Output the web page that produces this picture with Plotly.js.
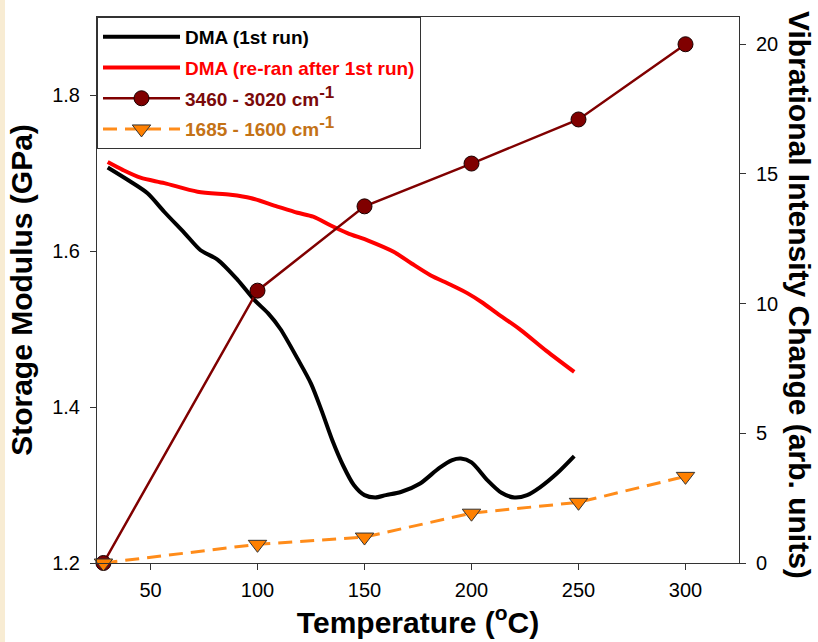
<!DOCTYPE html>
<html>
<head>
<meta charset="utf-8">
<script src="https://cdn.plot.ly/plotly-3.0.1.min.js"></script>
<style>
  html, body { margin: 0; padding: 0; background: #f8ecd3; width: 818px; height: 642px; overflow: hidden; }
  #chart { position: absolute; left: 5px; top: 0; width: 813px; height: 642px; background: #fff; }
</style>
</head>
<body>
<div id="chart"></div>
<script>
// DMA (1st run) - storage modulus (GPa)
const dma1Temp = [30, 40, 48.6, 56.5, 65.9, 73.4, 81.3, 90.7, 98.6, 105, 110.7, 118.7, 125, 130, 135, 140, 145, 150, 155, 160, 167, 176, 185, 191, 195, 200, 207.5, 214, 220, 226, 232, 240, 248];
const dma1Mod  = [1.707, 1.690, 1.674, 1.650, 1.623, 1.601, 1.589, 1.563, 1.537, 1.520, 1.500, 1.462, 1.430, 1.395, 1.357, 1.325, 1.300, 1.287, 1.284, 1.287, 1.291, 1.302, 1.322, 1.332, 1.334, 1.329, 1.306, 1.290, 1.284, 1.287, 1.297, 1.315, 1.337];

// DMA (re-ran after 1st run)
const dma2Temp = [30, 37, 45.3, 56.5, 72, 87.4, 96.7, 109.3, 118.7, 126, 134, 142, 152, 163.6, 172, 180.8, 190, 198, 205, 212, 222.9, 235, 248];
const dma2Mod  = [1.714, 1.704, 1.694, 1.687, 1.676, 1.672, 1.668, 1.657, 1.649, 1.644, 1.633, 1.623, 1.613, 1.599, 1.584, 1.569, 1.557, 1.546, 1.534, 1.520, 1.499, 1.472, 1.445];

// Vibrational intensity change (arb. units)
const irTemp   = [28, 100, 150, 200, 250, 300];
const band3460 = [0, 10.5, 13.75, 15.4, 17.1, 20.0];
const band1685 = [0, 0.72, 1.0, 1.92, 2.34, 3.34];

const names = [
  '<span style="color:#000000">DMA (1st run)</span>',
  '<span style="color:#ff0000">DMA (re-ran after 1st run)</span>',
  '<span style="color:#7a0a0a">3460 - 3020 cm<sup><span style="font-size:17px">-1</span></sup></span>',
  '<span style="color:#c47216">1685 - 1600 cm<sup><span style="font-size:17px">-1</span></sup></span>'
];

const FONT = 'Liberation Sans, Arial, sans-serif';

const traces = [
  { x: dma1Temp, y: dma1Mod, name: names[0], legendgroup: 'a', mode: 'lines', yaxis: 'y',
    line: { color: '#000000', width: 4, shape: 'spline', smoothing: 0.8 } },
  { x: dma2Temp, y: dma2Mod, name: names[1], legendgroup: 'b', mode: 'lines', yaxis: 'y',
    line: { color: '#ff0000', width: 4, shape: 'spline', smoothing: 0.8 } },
  { x: irTemp, y: band3460, name: names[2], legendgroup: 'c', mode: 'lines+markers', yaxis: 'y2', cliponaxis: false,
    line: { color: '#800000', width: 2.5 },
    marker: { symbol: 'circle', size: 15, color: '#800000', line: { color: '#1a0000', width: 1 } } },
  { x: irTemp, y: band1685, name: names[3], legendgroup: 'd', mode: 'lines+markers', yaxis: 'y2', cliponaxis: false,
    line: { color: '#ff8c1a', width: 3, dash: '14px,8px' },
    marker: { symbol: 'triangle-down', size: 16, color: '#ff8000', line: { color: '#333333', width: 1 } } }
];

const layout = {
  width: 813, height: 642,
  margin: { l: 92, r: 79, t: 17, b: 79, pad: 0 },
  paper_bgcolor: '#ffffff', plot_bgcolor: '#ffffff',
  font: { family: FONT, color: '#000000' },
  showlegend: true,
  legend: {
    x: 0, y: 1, xanchor: 'left', yanchor: 'top',
    bgcolor: '#ffffff', bordercolor: '#333333', borderwidth: 1,
    font: { family: FONT, size: 19, weight: 'bold' },
    itemwidth: 77, tracegroupgap: 3
  },
  xaxis: {
    range: [25, 325], tickvals: [50, 100, 150, 200, 250, 300],
    showline: true, linecolor: '#333333', linewidth: 1, mirror: true,
    ticks: 'outside', ticklen: 6, tickcolor: '#333333',
    tickfont: { family: FONT, size: 20, color: '#000' }, ticklabelstandoff: 3,
    showgrid: false, zeroline: false,
    title: { text: 'Temperature (<sup>o</sup>C)', font: { family: FONT, size: 30, weight: 'bold' }, standoff: 4 }
  },
  yaxis: {
    range: [1.2, 1.9], tickvals: [1.2, 1.4, 1.6, 1.8], tickformat: '.1f',
    showline: true, linecolor: '#333333', linewidth: 1,
    ticks: 'outside', ticklen: 6, tickcolor: '#333333',
    tickfont: { family: FONT, size: 20, color: '#000' }, ticklabelstandoff: 6,
    showgrid: false, zeroline: false,
    title: { text: 'Storage Modulus (GPa)', font: { family: FONT, size: 30, weight: 'bold' }, standoff: 10 }
  },
  yaxis2: {
    overlaying: 'y', side: 'right', range: [0, 21.05], tickvals: [0, 5, 10, 15, 20],
    showline: true, linecolor: '#333333', linewidth: 1,
    ticks: 'outside', ticklen: 6, tickcolor: '#333333',
    tickfont: { family: FONT, size: 20, color: '#000' }, ticklabelstandoff: 6,
    showgrid: false, zeroline: false
  },
  annotations: [{
    text: 'Vibrational Intensity Change (arb. units)',
    xref: 'paper', yref: 'paper', x: 1, y: 0.5, xshift: 61, yshift: -5, textangle: 90,
    showarrow: false, xanchor: 'center', yanchor: 'middle',
    font: { family: FONT, size: 30, weight: 'bold', color: '#000' }
  }]
};

Plotly.newPlot('chart', traces, layout, { displayModeBar: false, staticPlot: true });
</script>
</body>
</html>
